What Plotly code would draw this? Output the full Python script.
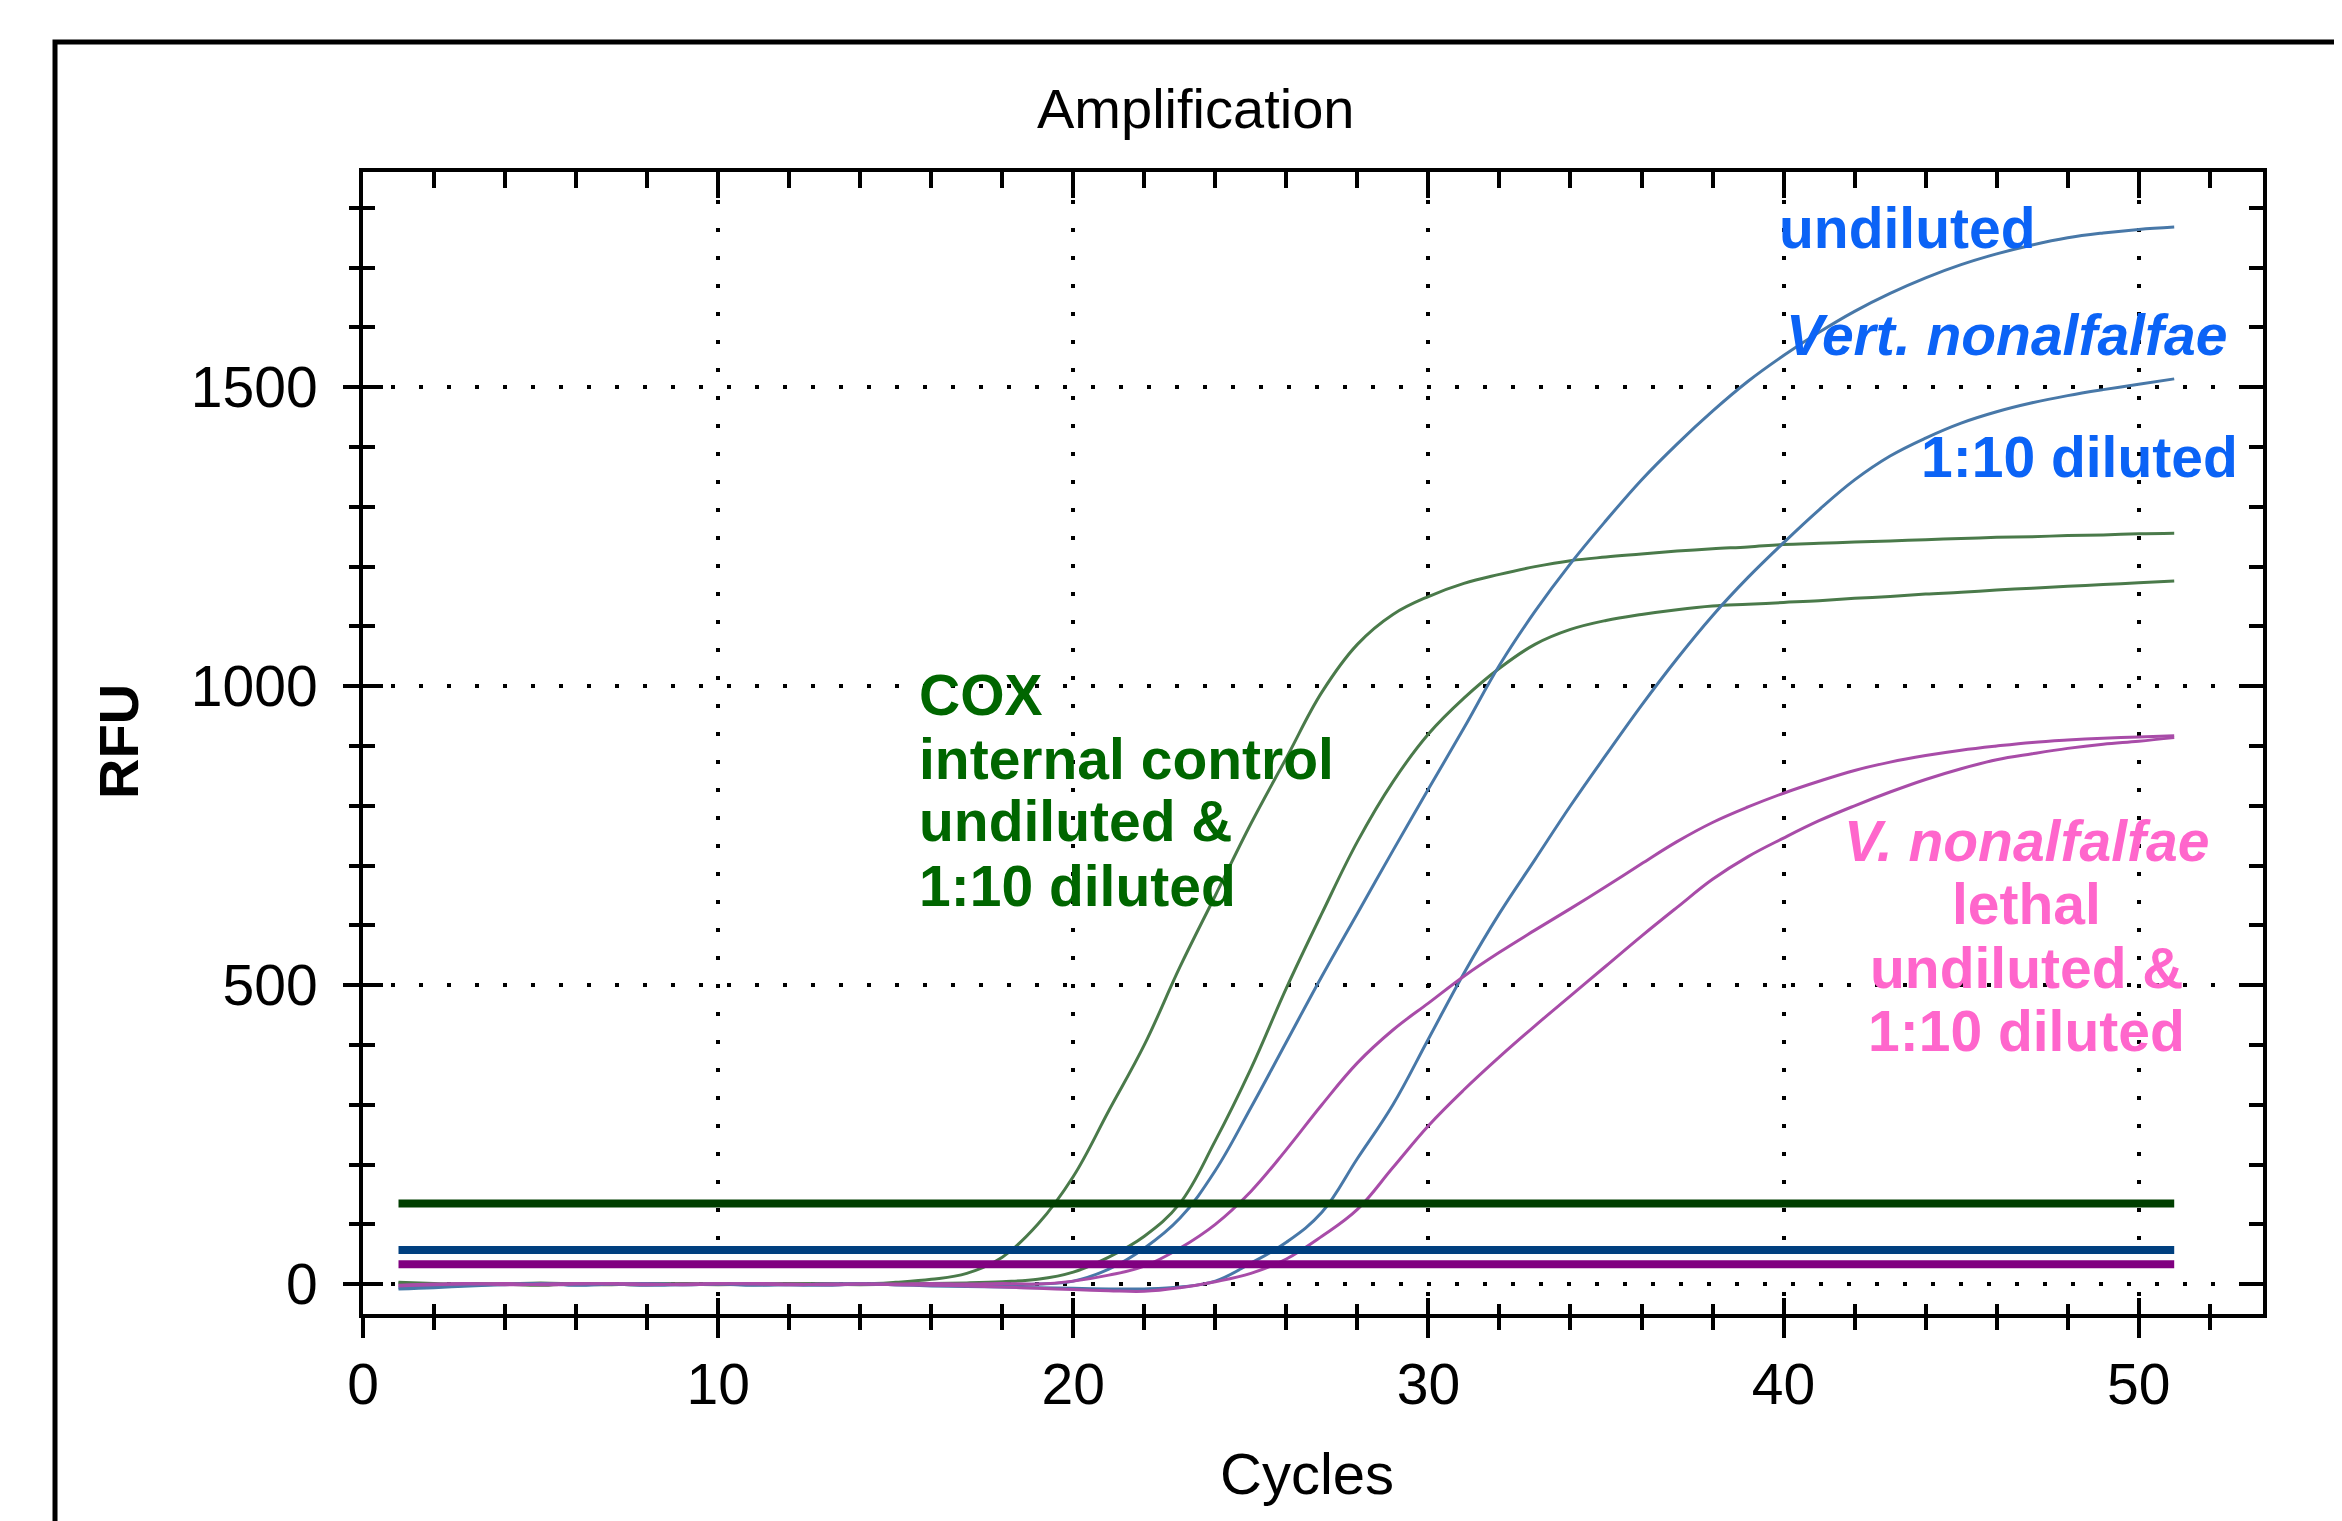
import plotly.graph_objects as go

# ---------------- data ----------------
cycles = list(range(1, 52))

cox_undiluted = [2, -1, 1, 0, -2, 1, 0, -1, 1, 0, -1, 0, 1, 0,
                 3, 8, 18, 45, 100, 180, 290, 400, 530, 650, 770, 880, 990, 1070, 1120, 1150,
                 1172, 1187, 1200, 1210, 1216, 1221, 1226, 1230, 1233, 1237,
                 1239, 1241, 1243, 1245, 1247, 1249, 1250, 1252, 1253, 1255, 1256]

cox_diluted = [3, 1, -1, 0, 2, 0, -1, 1, 0, -1, 0, 1, 0, -1, 0, 1, 2,
               4, 8, 20, 45, 80, 135, 240, 360, 495, 620, 740, 840, 920,
               980, 1030, 1070, 1095, 1110, 1120, 1128, 1134, 1137, 1140,
               1143, 1147, 1150, 1154, 1157, 1161, 1164, 1167, 1170, 1173, 1176]

vert_undiluted = [-8, -6, -3, -1, 1, -2, 0, 1, -1, 0, -2, -1, 0, 1, -1, 0, -2, -1, 0,
                  5, 25, 60, 110, 190, 295, 405, 515, 620, 725, 828,
                  930, 1035, 1125, 1205, 1277, 1345, 1405, 1460, 1510, 1553,
                  1592, 1627, 1657, 1683, 1705, 1723, 1738, 1750, 1758, 1764, 1768]

vert_diluted = [-6, -4, -2, 0, 1, -1, 0, -2, -1, 0, 1, -1, -2, 0, -1, -3, -4, -5, -6, -7, -8,
                -8, -5, 5, 35, 70, 120, 210, 300, 410,
                520, 620, 710, 800, 885, 968, 1046, 1118, 1182, 1240,
                1295, 1345, 1385, 1415, 1440, 1459, 1474, 1486, 1496, 1505, 1514]

lethal_undiluted = [-3, -1, 0, 1, -1, 0, 1, 0, -1, 0, 1, 0, -1, 0, 0, 1, 0, 1,
                    0, 5, 15, 30, 60, 100, 155, 225, 300, 370, 425, 470,
                    515, 555, 592, 628, 665, 703, 740, 772, 798, 821,
                    841, 859, 873, 884, 893, 900, 906, 910, 913, 915, 917]

lethal_diluted = [-2, 0, 1, -1, 0, 1, 0, -1, 0, 1, 0, -1, 0, 0, -1, -2, -3, -5, -7, -9, -11,
                  -12, -6, 4, 18, 42, 80, 125, 195, 265,
                  325, 380, 432, 482, 532, 582, 630, 677, 715, 746,
                  775, 800, 823, 844, 862, 877, 887, 896, 903, 908, 914]

threshold_cox = 135
threshold_vert = 57
threshold_lethal = 33

x_tick_values = [0, 10, 20, 30, 40, 50]
y_tick_values = [0, 500, 1000, 1500]

title_text = "Amplification"
x_title = "Cycles"
y_title = "RFU"

# ---------------- styles ----------------
FONT = "Liberation Sans, Arial, sans-serif"
GREEN_CURVE = "#4a7a4a"
BLUE_CURVE = "#4878a8"
PURPLE_CURVE = "#a84ca8"
GREEN_THR = "#003f00"
BLUE_THR = "#003f7f"
PURPLE_THR = "#800080"
LBL_BLUE = "#0b63f6"
LBL_GREEN = "#006600"
LBL_PINK = "#ff66cc"

X_RANGE = [0, 53.5]
Y_RANGE = [-50, 1860]

fig = go.Figure()

curves = [
    (cox_undiluted, GREEN_CURVE),
    (cox_diluted, GREEN_CURVE),
    (vert_undiluted, BLUE_CURVE),
    (vert_diluted, BLUE_CURVE),
    (lethal_undiluted, PURPLE_CURVE),
    (lethal_diluted, PURPLE_CURVE),
]
for vals, col in curves:
    fig.add_trace(go.Scatter(x=cycles, y=vals, mode="lines",
                             line=dict(color=col, width=3, shape="spline", smoothing=1.1),
                             showlegend=False, hoverinfo="skip"))

for thr, col in [(threshold_cox, GREEN_THR), (threshold_vert, BLUE_THR), (threshold_lethal, PURPLE_THR)]:
    fig.add_trace(go.Scatter(x=[cycles[0], cycles[-1]], y=[thr, thr], mode="lines",
                             line=dict(color=col, width=8),
                             showlegend=False, hoverinfo="skip"))

# dummy traces so overlay axes get drawn
fig.add_trace(go.Scatter(x=[None], y=[None], xaxis="x2", yaxis="y2", showlegend=False))
fig.add_trace(go.Scatter(x=[None], y=[None], xaxis="x3", yaxis="y3", showlegend=False))

tickfont = dict(family=FONT, size=57, color="black")

fig.update_layout(
    width=2334, height=1513, autosize=False,
    paper_bgcolor="white", plot_bgcolor="white",
    margin=dict(l=355, r=79, t=164, b=207),
    showlegend=False,
    xaxis=dict(range=X_RANGE, tickvals=x_tick_values, ticks="outside", ticklen=20, tickwidth=4,
               tickcolor="black",
               minor=dict(dtick=2, tick0=0, ticks="outside", ticklen=12, tickwidth=4,
                          tickcolor="black", showgrid=False),
               showline=True, linewidth=4, linecolor="black", mirror=True,
               showgrid=True, gridcolor="black", gridwidth=4, griddash="4px,24px",
               zeroline=False, tickfont=tickfont, ticklabelstandoff=-2),
    xaxis2=dict(range=X_RANGE, overlaying="x", side="top", anchor="y2",
                tickvals=x_tick_values, ticks="inside", ticklen=26, tickwidth=4, tickcolor="black",
                minor=dict(dtick=2, tick0=0, ticks="inside", ticklen=16, tickwidth=4,
                           tickcolor="black", showgrid=False),
                showticklabels=False, showgrid=False, showline=False, zeroline=False),
    xaxis3=dict(range=X_RANGE, overlaying="x", side="bottom", anchor="y3",
                tickvals=x_tick_values, ticks="inside", ticklen=16, tickwidth=4, tickcolor="black",
                minor=dict(dtick=2, tick0=0, ticks="inside", ticklen=10, tickwidth=4,
                           tickcolor="black", showgrid=False),
                showticklabels=False, showgrid=False, showline=False, zeroline=False),
    yaxis=dict(range=Y_RANGE, tickvals=y_tick_values, ticks="outside", ticklen=16, tickwidth=4,
               tickcolor="black",
               minor=dict(dtick=100, tick0=0, ticks="outside", ticklen=10, tickwidth=4,
                          tickcolor="black", showgrid=False),
               showline=True, linewidth=4, linecolor="black", mirror=True,
               showgrid=True, gridcolor="black", gridwidth=4, griddash="4px,24px",
               zeroline=False, tickfont=tickfont, ticklabelstandoff=14),
    yaxis2=dict(range=Y_RANGE, overlaying="y", side="right", anchor="x2",
                tickvals=y_tick_values, ticks="inside", ticklen=22, tickwidth=4, tickcolor="black",
                minor=dict(dtick=100, tick0=0, ticks="inside", ticklen=14, tickwidth=4,
                           tickcolor="black", showgrid=False),
                showticklabels=False, showgrid=False, showline=False, zeroline=False),
    yaxis3=dict(range=Y_RANGE, overlaying="y", side="left", anchor="x3",
                tickvals=y_tick_values, ticks="inside", ticklen=20, tickwidth=4, tickcolor="black",
                minor=dict(dtick=100, tick0=0, ticks="inside", ticklen=12, tickwidth=4,
                           tickcolor="black", showgrid=False),
                showticklabels=False, showgrid=False, showline=False, zeroline=False),
)

# outer frame
fig.add_shape(type="rect", xref="paper", yref="paper",
              x0=-0.1621, x1=1.0389, y0=-0.30, y1=1.1138,
              line=dict(color="black", width=5), fillcolor="rgba(0,0,0,0)", layer="below")

annos = []
annos.append(dict(text=title_text, xref="paper", yref="paper", x=0.438, y=1.0552,
                  xanchor="center", yanchor="middle", showarrow=False,
                  font=dict(family=FONT, size=56, color="black")))
annos.append(dict(text=x_title, xref="paper", yref="paper", x=0.497, y=-0.140,
                  xanchor="center", yanchor="middle", showarrow=False,
                  font=dict(family=FONT, size=58, color="black")))
annos.append(dict(text="<b>" + y_title + "</b>", xref="paper", yref="paper", x=-0.1284, y=0.501,
                  xanchor="center", yanchor="middle", showarrow=False, textangle=-90,
                  font=dict(family=FONT, size=56, color="black")))

label_font = lambda c: dict(family=FONT, size=57, color=c)

blue_labels = [("<b>undiluted</b>", 39.82, 1766, "left"),
               ("<b><i>Vert. nonalfalfae</i></b>", 40.0, 1587, "left"),
               ("<b>1:10 diluted</b>", 52.86, 1383, "right")]
green_labels = [("<b>COX</b>", 15.6, 986, "left"),
                ("<b>internal control</b>", 15.6, 879, "left"),
                ("<b>undiluted &amp;</b>", 15.6, 774, "left"),
                ("<b>1:10 diluted</b>", 15.6, 666, "left")]
pink_labels = [("<b><i>V. nonalfalfae</i></b>", 46.85, 741, "center"),
               ("<b>lethal</b>", 46.85, 636, "center"),
               ("<b>undiluted &amp;</b>", 46.85, 529, "center"),
               ("<b>1:10 diluted</b>", 46.85, 424, "center")]
for group, col in [(blue_labels, LBL_BLUE), (green_labels, LBL_GREEN), (pink_labels, LBL_PINK)]:
    for txt, xx, yy, anc in group:
        annos.append(dict(text=txt, xref="x", yref="y", x=xx, y=yy, xanchor=anc,
                          yanchor="middle", showarrow=False, font=label_font(col)))

fig.update_layout(annotations=annos)

fig.write_html("out.html")
